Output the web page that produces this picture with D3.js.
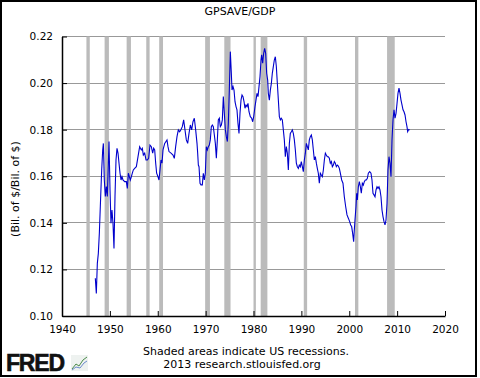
<!DOCTYPE html>
<html><head><meta charset="utf-8">
<script src="https://cdn.jsdelivr.net/npm/d3@7"></script>
<style>
html,body{margin:0;padding:0;background:#fff;}
svg{display:block;font-family:"DejaVu Sans",Verdana,sans-serif;}
</style></head>
<body><svg id="c" width="480" height="378"></svg>
<script>
const title = "GPSAVE/GDP";
const yAxisTitle = "(Bil. of $/Bil. of $)";
const footer1 = "Shaded areas indicate US recessions.";
const footer2 = "2013 research.stlouisfed.org";
const xTicks = [1940,1950,1960,1970,1980,1990,2000,2010,2020];
const yTicks = [0.10,0.12,0.14,0.16,0.18,0.20,0.22];
const recessionStarts = [1945.1,1948.9,1953.5,1957.6,1960.3,1969.9,1973.9,1980.0,1981.5,1990.5,2001.2,2007.9];
const recessionEnds   = [1945.8,1949.8,1954.4,1958.3,1961.1,1970.9,1975.2,1980.5,1982.9,1991.2,2001.9,2009.5];
const years = [
1946.96,1947.17,1947.38,1947.59,1947.80,1948.08,1948.29,1948.50,1948.64,1948.84,1949.05,1949.26,1949.47,1949.68,1949.82,
1950.03,1950.23,1950.44,1950.65,1950.86,1951.07,1951.28,1951.49,1951.70,1951.91,1952.12,1952.33,1952.53,1952.74,1953.09,
1953.44,1953.65,1953.86,1954.07,1954.27,1954.48,1954.69,1954.90,1955.18,1955.53,1955.88,1956.22,1956.57,1956.78,1956.99,
1957.27,1957.55,1957.83,1958.10,1958.38,1958.66,1958.94,1959.15,1959.36,1959.57,1959.77,1960.05,1960.26,1960.47,1960.68,
1960.89,1961.10,1961.45,1961.93,1962.14,1962.35,1962.77,1963.19,1963.46,1963.74,1964.02,1964.30,1964.58,1964.86,1965.13,
1965.41,1965.69,1965.97,1966.25,1966.53,1966.81,1967.08,1967.36,1967.64,1967.92,1968.20,1968.34,1968.48,1968.62,1968.83,
1969.03,1969.31,1969.52,1969.73,1969.94,1970.15,1970.36,1970.57,1970.77,1970.98,1971.19,1971.40,1971.61,1971.82,1972.03,
1972.24,1972.45,1972.65,1972.86,1973.07,1973.28,1973.49,1973.70,1973.91,1974.12,1974.33,1974.54,1974.74,1974.95,1975.16,
1975.37,1975.51,1975.72,1975.93,1976.14,1976.35,1976.55,1976.76,1976.97,1977.18,1977.39,1977.60,1977.81,1978.02,1978.22,
1978.43,1978.64,1978.85,1979.06,1979.34,1979.62,1979.83,1980.04,1980.31,1980.52,1980.73,1980.94,1981.15,1981.36,1981.57,
1981.71,1981.92,1982.12,1982.33,1982.54,1982.75,1982.96,1983.10,1983.31,1983.52,1983.73,1983.93,1984.14,1984.35,1984.56,
1984.77,1984.98,1985.19,1985.40,1985.61,1985.81,1986.02,1986.23,1986.44,1986.65,1986.86,1987.07,1987.28,1987.49,1987.69,
1987.90,1988.11,1988.32,1988.53,1988.74,1988.95,1989.16,1989.37,1989.57,1989.78,1989.99,1990.20,1990.41,1990.62,1990.83,
1991.04,1991.25,1991.45,1991.66,1991.87,1992.08,1992.29,1992.50,1992.71,1992.92,1993.13,1993.33,1993.54,1993.75,1993.96,
1994.17,1994.38,1994.59,1994.80,1995.01,1995.21,1995.42,1995.63,1995.84,1996.05,1996.26,1996.47,1996.68,1996.89,1997.09,
1997.30,1997.51,1997.72,1997.93,1998.14,1998.42,1998.69,1998.97,1999.25,1999.53,1999.81,2000.09,2000.30,2000.50,2000.71,
2000.92,2001.06,2001.20,2001.41,2001.55,2001.69,2001.90,2002.11,2002.32,2002.52,2002.73,2002.94,2003.15,2003.36,2003.57,
2003.78,2003.99,2004.27,2004.54,2004.75,2004.96,2005.17,2005.38,2005.59,2005.80,2006.01,2006.21,2006.42,2006.63,2006.84,
2007.05,2007.26,2007.47,2007.68,2007.89,2008.09,2008.30,2008.51,2008.72,2008.93,2009.14,2009.35,2009.56,2009.77,2009.98,
2010.18,2010.39,2010.60,2010.81,2011.02,2011.23,2011.44,2011.65,2011.86,2012.06,2012.20,2012.41,2012.62
];
const values = [
0.1162,0.1097,0.1226,0.1269,0.1355,0.1513,0.1627,0.1713,0.1741,0.1584,0.1513,0.1556,0.1513,0.1656,0.1749,
0.1541,0.1398,0.1455,0.1398,0.1290,0.1513,0.1670,0.1720,0.1699,0.1656,0.1613,0.1584,0.1598,0.1584,0.1577,
0.1577,0.1548,0.1613,0.1598,0.1584,0.1598,0.1613,0.1627,0.1634,0.1641,0.1684,0.1727,0.1713,0.1720,0.1691,
0.1699,0.1670,0.1670,0.1677,0.1734,0.1727,0.1699,0.1720,0.1713,0.1656,0.1613,0.1598,0.1584,0.1627,0.1670,
0.1656,0.1713,0.1741,0.1756,0.1727,0.1706,0.1699,0.1691,0.1677,0.1727,0.1770,0.1799,0.1791,0.1801,0.1813,
0.1842,0.1799,0.1756,0.1741,0.1784,0.1820,0.1799,0.1834,0.1849,0.1799,0.1741,0.1699,0.1648,0.1641,0.1570,
0.1563,0.1563,0.1613,0.1584,0.1613,0.1727,0.1713,0.1727,0.1734,0.1756,0.1813,0.1820,0.1813,0.1777,0.1741,
0.1677,0.1756,0.1842,0.1849,0.1813,0.1820,0.1842,0.1942,0.1870,0.1799,0.1770,0.1749,0.1827,0.1970,0.2135,
0.2042,0.1970,0.1985,0.1970,0.1920,0.1899,0.1885,0.1827,0.1784,0.1870,0.1927,0.1949,0.1942,0.1920,0.1892,
0.1906,0.1899,0.1913,0.1877,0.1856,0.1849,0.1834,0.1856,0.1899,0.1927,0.1956,0.1942,0.1985,0.2028,0.2099,
0.2121,0.2085,0.2128,0.2149,0.2128,0.2042,0.2013,0.1956,0.1927,0.1970,0.1999,0.2042,0.2071,0.2099,0.2113,
0.2071,0.1999,0.1927,0.1856,0.1842,0.1849,0.1842,0.1799,0.1756,0.1684,0.1727,0.1699,0.1627,0.1741,0.1784,
0.1791,0.1799,0.1784,0.1756,0.1713,0.1656,0.1641,0.1634,0.1648,0.1641,0.1663,0.1641,0.1620,0.1670,0.1699,
0.1741,0.1727,0.1713,0.1756,0.1770,0.1777,0.1756,0.1713,0.1670,0.1684,0.1656,0.1634,0.1613,0.1570,0.1613,
0.1605,0.1598,0.1627,0.1670,0.1699,0.1691,0.1684,0.1684,0.1677,0.1656,0.1663,0.1641,0.1648,0.1663,0.1656,
0.1641,0.1648,0.1644,0.1634,0.1613,0.1584,0.1570,0.1512,0.1470,0.1434,0.1420,0.1405,0.1391,0.1384,0.1355,
0.1319,0.1370,0.1412,0.1470,0.1527,0.1498,0.1555,0.1577,0.1555,0.1527,0.1570,0.1562,0.1577,0.1584,0.1584,
0.1591,0.1613,0.1620,0.1613,0.1584,0.1527,0.1520,0.1512,0.1541,0.1555,0.1548,0.1555,0.1541,0.1512,0.1455,
0.1427,0.1405,0.1391,0.1412,0.1484,0.1627,0.1684,0.1656,0.1598,0.1756,0.1842,0.1885,0.1849,0.1870,0.1913,
0.1956,0.1978,0.1956,0.1927,0.1906,0.1885,0.1877,0.1863,0.1834,0.1813,0.1792,0.1801,0.1799
];

const svg = d3.select("#c");
const x = d3.scaleLinear().domain([1940, 2020]).range([62, 445]);
const y = d3.scaleLinear().domain([0.10, 0.22]).range([316, 36.5]);

// frame
svg.append("rect").attr("x",1).attr("y",1).attr("width",475).attr("height",375)
  .attr("fill","#fff").attr("stroke","#000").attr("stroke-width",2);

// title
svg.append("text").attr("x",240).attr("y",15).attr("text-anchor","middle")
  .attr("font-size",11).attr("fill","#000").text(title);

// gridlines
svg.append("g").selectAll("line").data(yTicks.filter(d=>d>0.10)).join("line")
  .attr("x1",62).attr("x2",445).attr("y1",d=>y(d)).attr("y2",d=>y(d))
  .attr("stroke","#999").attr("stroke-width",1).attr("shape-rendering","crispEdges");

// recessions
svg.append("g").selectAll("rect").data(recessionStarts).join("rect")
  .attr("x",(d)=>x(d)).attr("width",(d,i)=>Math.max(1, x(recessionEnds[i])-x(d)))
  .attr("y",y(0.22)).attr("height",y(0.10)-y(0.22))
  .attr("fill","#bbbbbb");

// line
const pts = years.map((yr,i)=>[yr, values[i]]);
svg.append("path").datum(pts)
  .attr("d", d3.line().x(d=>x(d[0])).y(d=>y(d[1])))
  .attr("fill","none").attr("stroke","#0000cc").attr("stroke-width",1.1);

// axes
const yAxis = d3.axisLeft(y).tickValues(yTicks).tickFormat(d3.format(".2f")).tickSizeInner(-5).tickSizeOuter(0).tickPadding(9);
const gy = svg.append("g").attr("transform","translate(62,0)").call(yAxis);
const xAxis = d3.axisBottom(x).tickValues(xTicks).tickFormat(d3.format("d")).tickSizeInner(-5).tickSizeOuter(0).tickPadding(10);
const gx = svg.append("g").attr("transform","translate(0,316)").call(xAxis);
[gx,gy].forEach(g=>{
  g.selectAll("text").attr("font-size",10.5).attr("font-family","DejaVu Sans").attr("fill","#000");
  g.selectAll("line").attr("stroke","#000");
  g.select(".domain").attr("stroke","#000").attr("stroke-width",1.5);
});

// y title
svg.append("text").attr("transform","translate(19,189) rotate(-90)").attr("text-anchor","middle")
  .attr("font-size",11).attr("fill","#000").text(yAxisTitle);

// footer
svg.append("text").attr("x",246).attr("y",355).attr("text-anchor","middle")
  .attr("font-size",11).attr("fill","#000").text(footer1);
svg.append("text").attr("x",242).attr("y",368).attr("text-anchor","middle")
  .attr("font-size",11).attr("fill","#000").text(footer2);

// FRED logo
svg.append("text").attr("x",6).attr("y",371).attr("font-size",23).attr("font-weight","bold")
  .attr("font-family","Liberation Sans, Arial, sans-serif").attr("letter-spacing",-1.2)
  .attr("fill","#111").attr("stroke","#111").attr("stroke-width",0.6).text("FRED");
const ic = svg.append("g").attr("transform","translate(71,355)");
ic.append("rect").attr("width",17).attr("height",16).attr("fill","#eef2f0");
ic.append("path").attr("d","M1,14 L5,9 L8,11 L12,5 L16,2").attr("fill","none").attr("stroke","#4a8a4a").attr("stroke-width",1);
ic.append("path").attr("d","M1,15 L5,12 L9,13 L13,8 L16,6").attr("fill","none").attr("stroke","#6a8acb").attr("stroke-width",1);
</script></body></html>
